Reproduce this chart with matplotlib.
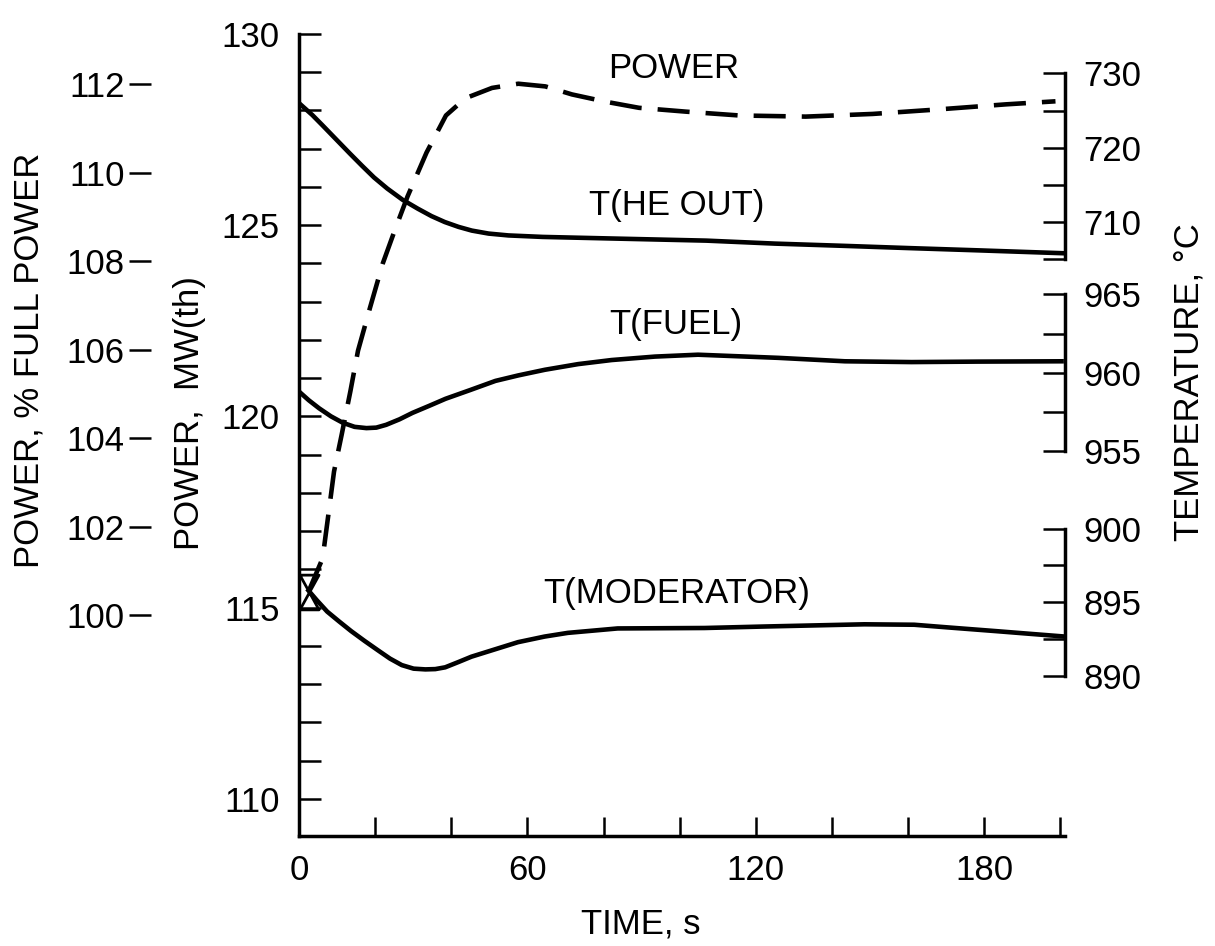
import numpy as np
import matplotlib
matplotlib.use("Agg")
import matplotlib.pyplot as plt
from matplotlib.path import Path

plt.rcParams['font.family'] = ['Liberation Sans', 'DejaVu Sans']

# power transient, MW(th)
time_power = [2.5, 6.2, 7.7, 9.2, 11.2, 13.5, 15.5, 18.7, 22.0, 25.2, 28.5, 33.5, 38.6,
              43.7, 50.7, 57.6, 64.7, 71.7, 80.5, 89.3, 101.6, 115.6, 133.1, 150.7,
              168.2, 185.6, 198.7]
power_mw = [115.42, 116.29, 117.42, 118.56, 119.52, 120.66, 121.72, 122.86, 124.0,
            124.88, 125.75, 126.9, 127.87, 128.32, 128.59, 128.7, 128.63, 128.42,
            128.23, 128.07, 127.97, 127.87, 127.84, 127.91, 128.03, 128.16, 128.24]

# helium outlet temperature, C
time_he = [0, 3.5, 6.2, 9.8, 13.4, 16.5, 19.7, 23.2, 27.2, 31.2, 34.8, 38.3, 41.9, 45.4,
           49.8, 55, 64, 81, 107, 125, 143, 160, 178, 201]
temp_he = [726.0, 724.4, 723.0, 721.1, 719.2, 717.6, 716.0, 714.5, 713.0, 711.8, 710.8,
           710.0, 709.35, 708.85, 708.45, 708.2, 708.0, 707.8, 707.5, 707.1, 706.8,
           706.5, 706.2, 705.8]

# fuel temperature, C
time_fuel = [0, 2.6, 5.3, 8.4, 11.5, 14.6, 17.7, 20.3, 22.9, 26.4, 29.8, 34.2, 38.5, 45,
             51.6, 57.6, 64.6, 73.3, 82.1, 93.5, 104.8, 125.9, 143.4, 160.9, 178.4, 200.3]
temp_fuel = [958.8, 958.24, 957.73, 957.22, 956.81, 956.55, 956.47, 956.5, 956.68, 957.03,
             957.44, 957.89, 958.34, 958.9, 959.48, 959.83, 960.19, 960.55, 960.81,
             961.03, 961.15, 960.95, 960.73, 960.68, 960.71, 960.73]

# moderator temperature, C
time_mod = [2.5, 4.7, 7.4, 10.5, 13.7, 17.2, 20.8, 23.9, 27, 30.1, 33.2, 35.8, 38.4, 41.9,
            45.3, 51.4, 57.5, 64.5, 70.6, 83.7, 106.5, 122.2, 148.5, 161.6, 170.4, 183.5,
            192.3, 200.7]
temp_mod = [895.8, 895.14, 894.38, 893.72, 893.06, 892.4, 891.75, 891.2, 890.76, 890.52,
            890.47, 890.49, 890.61, 890.97, 891.33, 891.82, 892.31, 892.69, 892.94,
            893.24, 893.27, 893.37, 893.52, 893.49, 893.31, 893.05, 892.87, 892.7]

x_ticks = list(range(0, 201, 20))
x_labels = ['0', '', '', '60', '', '', '120', '', '', '180', '']
pct_ticks = [100, 102, 104, 106, 108, 110, 112]

FS = 25
LW = 3.3

fig = plt.figure(figsize=(12.15, 9.46), dpi=100)
ax = fig.add_axes([299 / 1215, 1 - 836 / 946, 766 / 1215, 802 / 946])

ax.set_xlim(0, 201.2)
ax.set_ylim(109.03, 130)
for s in ['top', 'right']:
    ax.spines[s].set_visible(False)
for s in ['left', 'bottom']:
    ax.spines[s].set_linewidth(2.5)

ax.set_xticks(x_ticks)
ax.set_xticklabels(x_labels)
ax.set_yticks(range(110, 131, 5))
ax.set_yticks(range(110, 131), minor=True)
ax.tick_params(axis='x', direction='in', length=14, width=1.8, pad=13, labelsize=FS)
ax.tick_params(axis='y', which='both', direction='in', length=16, width=1.8, pad=14,
               labelsize=FS)

ax.plot(time_power, power_mw, color='black', lw=LW, dashes=(7, 3.5))

# hourglass symbol at the start of the transient
hourglass = Path([(-0.55, 1), (0.55, 1), (-0.55, -1), (0.55, -1), (-0.55, 1)])
ax.plot([time_power[0]], [power_mw[0]], marker=hourglass, ms=25, mfc='none',
        mec='black', mew=2, ls='none')


def temp_axis(lo, hi, lim, major, minor):
    t = ax.twinx()
    for s in ['left', 'top', 'bottom']:
        t.spines[s].set_visible(False)
    t.spines['right'].set_bounds(lo, hi)
    t.spines['right'].set_linewidth(2.5)
    t.set_ylim(*lim)
    t.set_yticks(major)
    t.set_yticks(minor, minor=True)
    t.tick_params(axis='y', which='both', direction='in', length=16, width=1.8,
                  pad=13, labelsize=FS)
    return t


ax_he = temp_axis(705, 730, (627.4, 735.3), [710, 720, 730], [705, 715, 725])
ax_he.plot(time_he, temp_he, color='black', lw=LW, solid_joinstyle='round')

ax_fuel = temp_axis(955, 965, (930.46, 981.6), [955, 960, 965], [957.5, 962.5])
ax_fuel.plot(time_fuel, temp_fuel, color='black', lw=LW, solid_joinstyle='round')

ax_mod = temp_axis(890, 900, (879.2, 933.45), [890, 895, 900], [892.5, 897.5])
ax_mod.plot(time_mod, temp_mod, color='black', lw=LW, solid_joinstyle='round')

# percent of full power scale on the far left
ax_pct = ax.twinx()
for s in ax_pct.spines.values():
    s.set_visible(False)
ax_pct.yaxis.tick_left()
ax_pct.spines['left'].set_position(('axes', -0.193))
ax_pct.set_ylim(95.02, 113.13)
ax_pct.set_yticks(pct_ticks)
ax_pct.tick_params(axis='y', direction='out', length=16, width=1.8, pad=3, labelsize=FS)

ax.text(98.4, 129.10, 'POWER', fontsize=FS, ha='center', va='center')
ax.text(99.2, 125.52, 'T(HE OUT)', fontsize=FS, ha='center', va='center')
ax.text(99.1, 122.41, 'T(FUEL)', fontsize=FS, ha='center', va='center')
ax.text(99.2, 115.38, 'T(MODERATOR)', fontsize=FS, ha='center', va='center')

fig.text(641 / 1215, 1 - 924 / 946, 'TIME, s', fontsize=FS, ha='center', va='center')
fig.text(189 / 1215, 1 - 413 / 946, 'POWER,  MW(th)', fontsize=FS, rotation=90,
         ha='center', va='center')
fig.text(29 / 1215, 1 - 360 / 946, 'POWER, % FULL POWER', fontsize=FS, rotation=90,
         ha='center', va='center')
fig.text(1189 / 1215, 1 - 382 / 946, 'TEMPERATURE, °C', fontsize=FS, rotation=90,
         ha='center', va='center')

fig.savefig('out.png', dpi=100)
